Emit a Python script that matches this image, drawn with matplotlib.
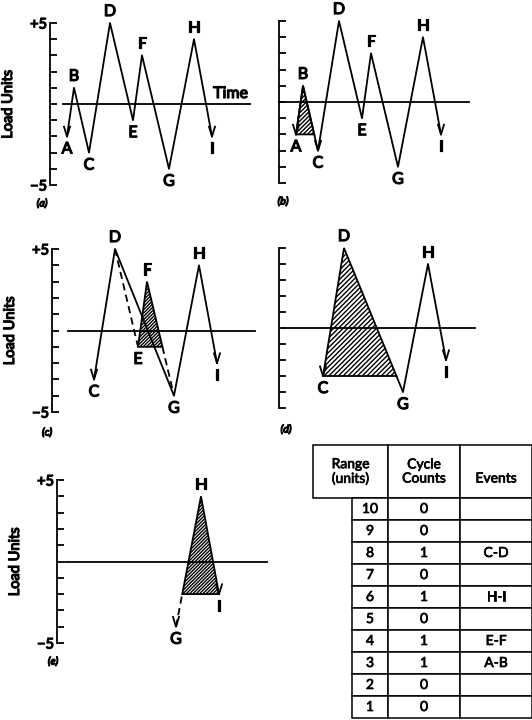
import matplotlib.pyplot as plt
import matplotlib.patheffects as pe
import numpy as np

plt.rcParams['font.family'] = ['Lato', 'DejaVu Sans']
plt.rcParams['hatch.linewidth'] = 1.0

# load history: peaks and valleys
events = ['A', 'B', 'C', 'D', 'E', 'F', 'G', 'H', 'I']
event_time = [1.7, 2.4, 3.9, 6.0, 8.3, 9.2, 11.9, 14.4, 16.2]
event_load = [-2, 1, -3, 5, -1, 3, -4, 4, -2]

# rainflow count table
range_units = [10, 9, 8, 7, 6, 5, 4, 3, 2, 1]
cycle_counts = [0, 0, 1, 0, 1, 0, 1, 1, 0, 0]
cycle_events = ['', '', 'C-D', '', 'H-I', '', 'E-F', 'A-B', '', '']

W, H = 532, 720
fig = plt.figure(figsize=(W / 100, H / 100), dpi=100)

t = dict(zip(events, event_time))
y = dict(zip(events, event_load))
LW = 1.3
# fake a heavier print face
BOLD = [pe.withStroke(linewidth=0.9, foreground='k')]
SEMI = [pe.withStroke(linewidth=0.5, foreground='k')]


def cross(p, q, level):
    # time at which segment p-q passes a load level
    f = (level - y[p]) / (y[q] - y[p])
    return t[p] + f * (t[q] - t[p])


def panel(x0, top, bottom, tag, tagoff, shift=0.0, width=215, labels=True,
          zero=(1.3, 20.0)):
    ax = fig.add_axes([x0 / W, 1 - bottom / H, width / W, (bottom - top) / H])
    ax.set_xlim(-shift, width / 10 - shift)
    ax.set_ylim(-5, 5)
    for s in ['top', 'right', 'bottom']:
        ax.spines[s].set_visible(False)
    ax.spines['left'].set_linewidth(1.3)
    ax.set_xticks([])
    ax.set_yticks(range(-5, 6))
    ax.tick_params(axis='y', direction='in', length=5, width=1.3,
                   labelsize=10.5, pad=2)
    if labels:
        ax.set_yticklabels(['\u22125'] + [''] * 9 + ['+5'])
        for tl in ax.get_yticklabels():
            tl.set_path_effects(BOLD)
        ax.set_ylabel('Load Units', fontsize=10.5, path_effects=BOLD)
        ax.yaxis.set_label_coords(-35 / width, 0.5)
    else:
        ax.set_yticklabels([])
    ax.plot(zero, [0, 0], color='k', lw=LW, clip_on=False)
    ax.annotate(tag, xy=(0, 0), xycoords='axes fraction', xytext=tagoff,
                textcoords='offset pixels', ha='center', va='center',
                fontsize=7.5, fontstyle='italic', path_effects=BOLD)
    return ax


def path(ax, names, **kw):
    ax.plot([t[n] for n in names], [y[n] for n in names], color='k',
            lw=LW, clip_on=False, **kw)


def vmark(ax, n):
    ax.plot([t[n] - 0.3, t[n], t[n] + 0.3], [y[n] + 0.6, y[n], y[n] + 0.6],
            color='k', lw=LW, clip_on=False)


def label(ax, names, dx=0):
    for n in names:
        up = y[n] > 0 or n == 'B'
        ax.annotate(n, xy=(t[n], y[n]), xytext=(dx, 4 if up else -6),
                    textcoords='offset pixels', ha='center',
                    va='bottom' if up else 'top', fontsize=11.5,
                    path_effects=BOLD)


def tri(ax, pts, hatch='////////'):
    ax.fill([p[0] for p in pts], [p[1] for p in pts], facecolor='white',
            edgecolor='k', hatch=hatch, lw=LW, clip_on=False)


# (a) full history
ax = panel(50, 23, 185, '(a)', (-8, -19))
path(ax, events)
vmark(ax, 'A')
vmark(ax, 'I')
label(ax, events)
ax.annotate('Time', xy=(20.0, 0), xytext=(-2, 3), textcoords='offset pixels',
            ha='right', va='bottom', fontsize=11.5, path_effects=BOLD)

# (b) A-B cycle
ax = panel(279, 21, 183, '(b)', (4, -19), labels=False, zero=(0, 19.0))
path(ax, events)
tri(ax, [(t['A'], y['A']), (t['B'], y['B']), (cross('B', 'C', y['A']), y['A'])])
vmark(ax, 'A')
vmark(ax, 'C')
vmark(ax, 'I')
label(ax, events)

# (c) E-F cycle
ax = panel(52, 249, 412, '(c)', (-5, -21), shift=0.3)
path(ax, ['C', 'D', 'G', 'H', 'I'])
path(ax, ['D', 'E'], ls=(0, (4, 2.5)))
xe = cross('F', 'G', y['E'])
ax.plot([xe, t['G']], [y['E'], y['G']], color='k', lw=LW, ls=(0, (4, 2.5)))
tri(ax, [(t['E'], y['E']), (t['F'], y['F']), (xe, y['E'])], hatch='//////////')
vmark(ax, 'C')
vmark(ax, 'I')
label(ax, ['C', 'D', 'E', 'F', 'G', 'H', 'I'])

# (d) C-D cycle
ax = panel(279, 248, 408, '(d)', (7, -22), shift=0.5, labels=False,
           zero=(0, 19.1))
xc = cross('D', 'G', y['C'])
tri(ax, [(t['C'], y['C']), (t['D'], y['D']), (xc, y['C'])], hatch='///////')
ax.plot([xc, t['G'], t['H'], t['I']], [y['C'], y['G'], y['H'], y['I']],
        color='k', lw=LW)
vmark(ax, 'C')
vmark(ax, 'I')
label(ax, ['C', 'D', 'G', 'H', 'I'])

# (e) H-I cycle
ax = panel(57, 480, 643, '(e)', (-4, -19), zero=(0.8, 21.0))
xg = cross('G', 'H', y['I'])
ax.plot([t['G'], xg], [y['G'], y['I']], color='k', lw=LW, ls=(0, (4, 2.5)))
tri(ax, [(xg, y['I']), (t['H'], y['H']), (t['I'], y['I'])], hatch='//////////')
vmark(ax, 'G')
vmark(ax, 'I')
label(ax, ['G', 'H', 'I'])

# count table
tax = fig.add_axes([313 / W, 1 - 718 / H, (532 - 313) / W, (718 - 445) / H])
tax.axis('off')
head = tax.table(cellText=[['Range\n(units)', 'Cycle\nCounts', '\nEvents']],
                 colWidths=[75, 72, 72], cellLoc='center',
                 bbox=[0, 220 / 273, 1, 53 / 273])
body = tax.table(cellText=[[str(r), str(c), e] for r, c, e in
                           zip(range_units, cycle_counts, cycle_events)],
                 colWidths=[36, 72, 72], cellLoc='center',
                 bbox=[39 / 219, 0, 180 / 219, 220 / 273])
for tb in (head, body):
    tb.auto_set_font_size(False)
    tb.set_fontsize(10)
    for (r, c), cell in tb.get_celld().items():
        cell.set_linewidth(1.1)
        cell.get_text().set_path_effects(SEMI)
for r in range(len(range_units)):
    cell = body[r, 0]
    cell._loc = 'right'
    cell.PAD = 0.3

fig.savefig('out.png', dpi=100)
